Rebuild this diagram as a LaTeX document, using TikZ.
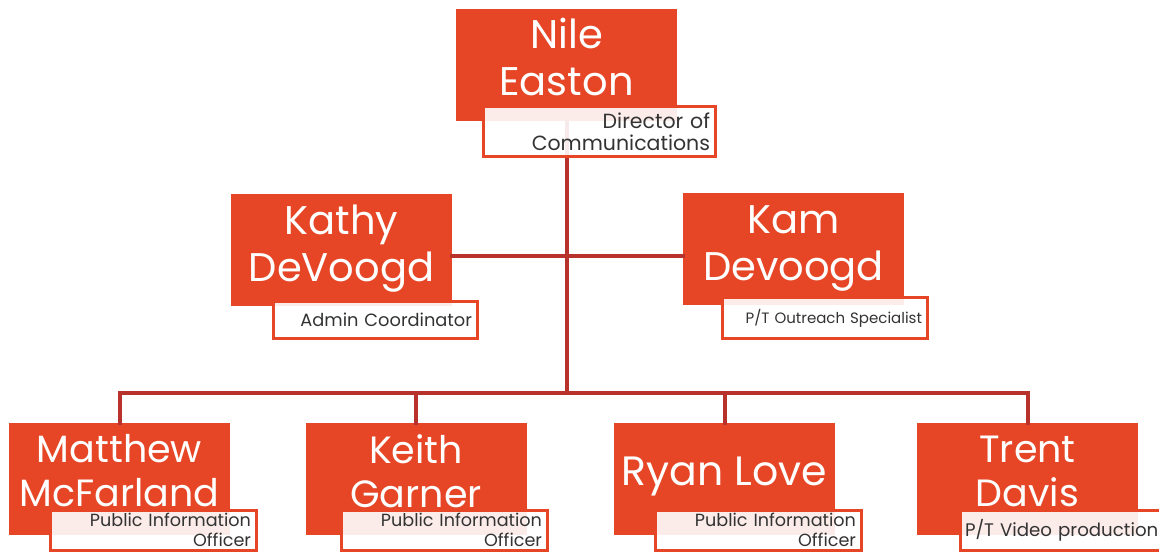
\documentclass[tikz,border=0pt]{standalone}
\usepackage{fontspec}
\setmainfont{Poppins}
\definecolor{boxred}{RGB}{230,70,38}
\definecolor{linered}{RGB}{184,49,42}
\definecolor{txtgray}{RGB}{51,51,51}
\begin{document}
\begin{tikzpicture}[x=1pt,y=-1pt,
  redbox/.style={rectangle,fill=boxred,draw=none,minimum width=221pt,minimum height=112pt,inner sep=0pt},
  nametext/.style={inner sep=0pt,text=white,align=center,font=\fontsize{40}{47}\selectfont},
  smallname/.style={nametext,font=\fontsize{38}{44}\selectfont},
  titlebox/.style={rectangle,draw=boxred,line width=3pt,fill=white,fill opacity=0.9,text opacity=1,inner xsep=5pt,inner ysep=0pt,text=txtgray},
  conn/.style={draw=linered,line width=4pt,line join=miter,line cap=rect}]
\useasboundingbox (0,0) rectangle (1159,553);
\clip (0,0) rectangle (1159,553);
% coordinates for connector routing
\coordinate (hub) at (566.5,256);
\coordinate (bus) at (566.5,393);
% red name boxes
\node[redbox] (nile) at (566.5,65) {};
\node[redbox] (kathy) at (341.5,250) {};
\node[redbox] (kam) at (793.5,249.5) {};
\node[redbox] (matt) at (119.5,479) {};
\node[redbox] (keith) at (416,479) {};
\node[redbox] (ryan) at (724.5,479) {};
\node[redbox] (trent) at (1027.5,479) {};
% names
\node[nametext] (nileN) at ([yshift=8pt]nile.center) {Nile\\Easton};
\node[nametext] (kathyN) at ([yshift=1pt]kathy.center) {Kathy\\DeVoogd};
\node[nametext] (kamN) at ([yshift=1pt]kam.center) {Kam\\Devoogd};
\node[smallname] (mattN) at ([yshift=8pt]matt.center) {Matthew\\McFarland};
\node[smallname] (keithN) at ([yshift=8pt]keith.center) {Keith\\Garner};
\node[nametext,font=\fontsize{41}{47}\selectfont] (ryanN) at ([yshift=3pt]ryan.center) {Ryan Love};
\node[smallname] (trentN) at ([yshift=8pt]trent.center) {Trent\\Davis};
% connectors
\draw[conn] (nile.south -| hub) -- (bus);
\draw[conn] (kathy.east |- hub) -- (kam.west |- hub);
\draw[conn] (matt.north) -- (matt.north |- bus) -- (trent.north |- bus) -- (trent.north);
\draw[conn] (keith.north) -- (keith.north |- bus);
\draw[conn] (ryan.north) -- (ryan.north |- bus);
% title boxes
\node[titlebox,minimum width=232pt,minimum height=50pt,text width=222pt,align=right,font=\fontsize{20.5}{22.5}\selectfont] (nileT) at (599,132) {Director of\\Communications};
\node[titlebox,minimum width=204pt,minimum height=37pt,text width=194pt,align=right,font=\fontsize{17.8}{20}\selectfont] (kathyT) at (375,320) {Admin Coordinator};
\node[titlebox,minimum width=205pt,minimum height=40pt,text width=195pt,align=right,font=\fontsize{15}{18}\selectfont] (kamT) at (824.5,318) {P/T Outreach Specialist};
\node[titlebox,minimum width=206pt,minimum height=40pt,text width=196pt,align=right,font=\fontsize{17.6}{20.5}\selectfont] (mattT) at (153,530) {Public Information\\Officer};
\node[titlebox,minimum width=206pt,minimum height=40pt,text width=196pt,align=right,font=\fontsize{17.6}{20.5}\selectfont] (keithT) at (444,530) {Public Information\\Officer};
\node[titlebox,minimum width=206pt,minimum height=40pt,text width=196pt,align=right,font=\fontsize{17.6}{20.5}\selectfont] (ryanT) at (758,530) {Public Information\\Officer};
\node[titlebox,minimum width=212pt,minimum height=40pt,text width=202pt,align=left,font=\fontsize{18.2}{20}\selectfont] (trentT) at (1066,530) {P/T Video production};
\end{tikzpicture}
\end{document}
